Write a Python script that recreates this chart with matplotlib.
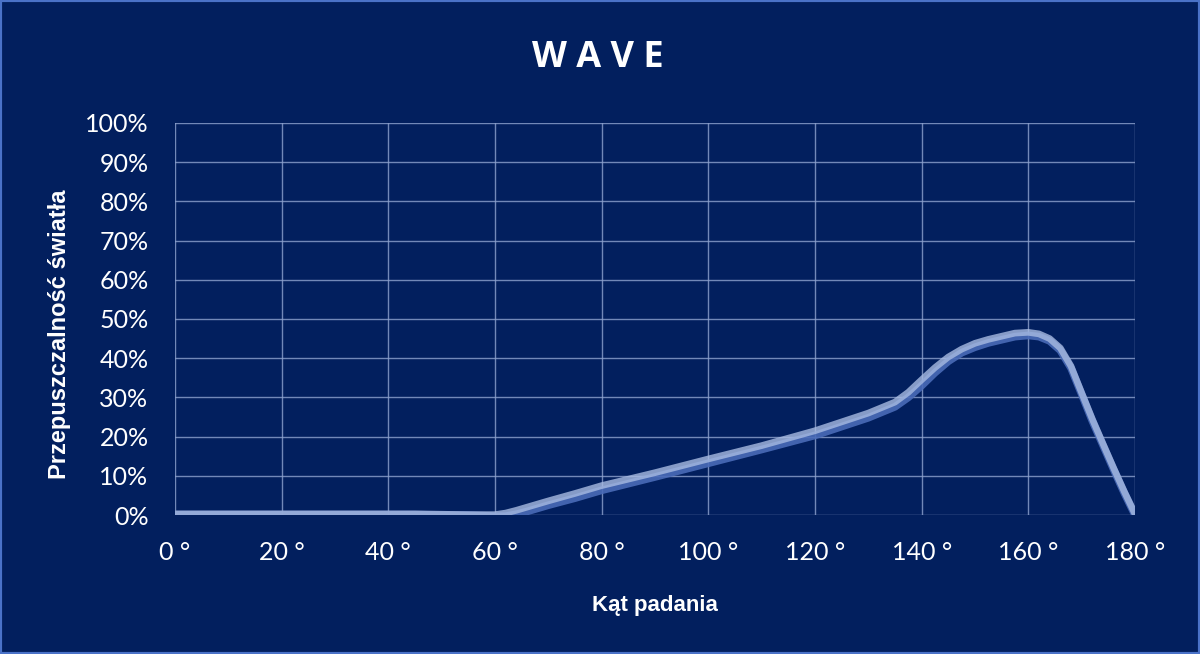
import numpy as np
import matplotlib.pyplot as plt
from matplotlib.patches import Rectangle

# katy padania (stopnie) i przepuszczalnosc swiatla (%)
katy = [0, 10, 20, 30, 40, 45, 50, 55, 60, 62, 64, 66, 70, 75, 80, 90, 100, 110, 120,
        130, 135, 137.5, 140, 142.5, 145, 147.5, 150, 152.5, 155, 157.5, 160, 162, 164,
        166, 168, 170, 172, 174, 176, 178, 180]
wave = [0.3, 0.3, 0.3, 0.3, 0.3, 0.3, 0.2, 0.1, 0.1, 0.5, 1.2, 2.0, 3.6, 5.5, 7.5, 10.8, 14.3, 17.7, 21.5,
        26.0, 28.8, 31.3, 34.5, 37.6, 40.3, 42.3, 43.8, 44.8, 45.6, 46.4, 46.6, 46.2, 45.0,
        42.6, 38.0, 31.2, 24.5, 18.2, 12.0, 6.0, 0.3]
# drugi (ciemniejszy) przebieg
wave_cien = [0.1, 0.1, 0.1, 0.1, 0.1, 0.1, 0.0, 0.0, -0.3, -0.3, 0.2, 0.9, 2.5, 4.3, 6.3, 9.7, 13.2, 16.7, 20.3,
             24.8, 27.6, 30.0, 33.0, 36.3, 39.2, 41.4, 42.8, 43.9, 44.7, 45.5, 45.8, 45.5, 44.4,
             42.0, 37.5, 30.8, 24.0, 17.8, 11.6, 5.6, 0.0]

x_ticks = [0, 20, 40, 60, 80, 100, 120, 140, 160, 180]
y_ticks = [0, 10, 20, 30, 40, 50, 60, 70, 80, 90, 100]

bg = '#021f5e'
fig = plt.figure(figsize=(12, 6.54), dpi=100, facecolor=bg)
ax = fig.add_axes([0.1458, 0.2125, 0.80, 0.5995])
ax.set_facecolor(bg)

ax.plot(katy, wave_cien, color='#4a6bb8', lw=5.5, alpha=0.9, solid_capstyle='round',
        solid_joinstyle='round', zorder=3)
ax.plot(katy, wave, color='#a8bbe2', lw=4.8, alpha=0.8, solid_capstyle='round',
        solid_joinstyle='round', zorder=4)

ax.set_xlim(0, 180)
ax.set_ylim(0, 100)
ax.set_xticks(x_ticks)
ax.set_xticklabels([f'{t} °' for t in x_ticks])
ax.set_yticks(y_ticks)
ax.set_yticklabels([f'{t}%' for t in y_ticks])
ax.tick_params(length=0, colors='white', labelsize=18)
ax.tick_params(axis='x', pad=19)
ax.tick_params(axis='y', pad=19)
for lab in ax.get_xticklabels() + ax.get_yticklabels():
    lab.set_fontfamily('Lato')
ax.grid(True, color='#8fa3cf', lw=1, alpha=0.8)
ax.set_axisbelow(True)
for s in ax.spines.values():
    s.set_visible(False)

ax.set_xlabel('Kąt padania', color='white', fontsize=16, fontweight='bold',
              family='Liberation Sans', labelpad=22)
ax.set_ylabel('Przepuszczalność światła', color='white', fontsize=17, fontweight='bold',
              family='Liberation Sans', va='center')
ax.yaxis.set_label_coords(-0.12, 0.462)

fig.text(0.498, 0.912, 'W A V E', color='white', fontsize=26, fontweight='bold',
         family='Open Sans', ha='center', va='center')

fig.patches.append(Rectangle((0, 0), 1, 1, transform=fig.transFigure, fill=False,
                             edgecolor='#4a72c8', lw=3))

fig.savefig('out.png', facecolor=bg)
